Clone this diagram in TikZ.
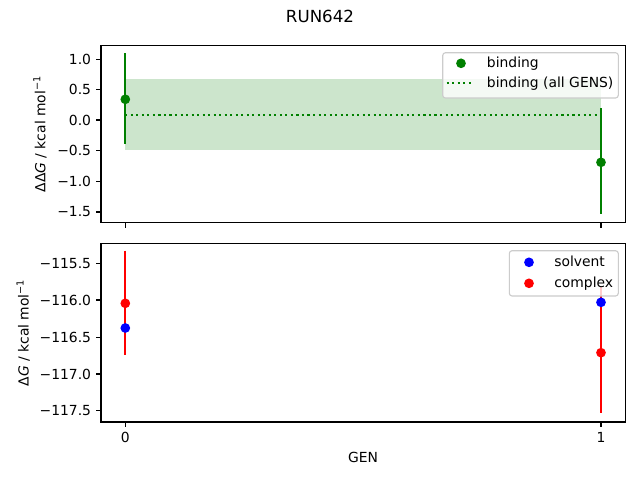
\documentclass[tikz,border=0pt]{standalone}
\usepackage{fontspec}
\setmainfont{DejaVu Sans}
\definecolor{mgreen}{HTML}{008000}
\definecolor{mblue}{HTML}{0000FF}
\definecolor{mred}{HTML}{FF0000}
\definecolor{legedge}{HTML}{CCCCCC}
\begin{document}
\begin{tikzpicture}[x=0.72pt,y=-0.72pt,font=\fontsize{10}{12}\selectfont,
  axisframe/.style={draw=black,line width=0.8pt},
  tickmark/.style={draw=black,line width=0.8pt},
  ylab/.style={anchor=east,inner sep=0pt},
  xlab/.style={anchor=north,inner sep=0pt},
  errbar/.style={line width=1.5pt},
  dotm/.style={circle,inner sep=0pt,minimum size=7pt},
  legbox/.style={draw=legedge,line width=0.8pt,fill=white,fill opacity=0.8,rounded corners=2pt},
  legtext/.style={anchor=west,inner sep=0pt,text height=7.5pt,text depth=2pt}]
\useasboundingbox (0,0) rectangle (640,480);
\fill[white] (0,0) rectangle (640,480);
% title
\node[font=\fontsize{12}{14}\selectfont] (title) at (320,16) {RUN642};
% ---------- top axes ----------
\fill[mgreen,fill opacity=0.2] (125.3,79) rectangle (601,150.3);
\draw[mgreen,line width=1.5pt,dash pattern=on 1.5pt off 2.475pt] (125.3,114.7) -- (601,114.7);
\draw[mgreen,errbar] (125.3,53.3) -- (125.3,144.3);
\draw[mgreen,errbar] (601,108.3) -- (601,214);
\node[dotm,fill=mgreen] (g0) at (125.3,99.3) {};
\node[dotm,fill=mgreen] (g1) at (601,162.3) {};
\draw[axisframe] (101,45.3) rectangle (625.3,222.7);
\foreach \y/\t in {59.3/1.0,89.8/0.5,120/0.0,150.5/{\char"2212 0.5},181.2/{\char"2212 1.0},212/{\char"2212 1.5}}{
  \draw[tickmark] (101,\y) -- (96.1,\y);
  \node[ylab] at (91.3,\y) {\t};
}
\draw[tickmark] (125.3,222.7) -- (125.3,227.6);
\draw[tickmark] (601,222.7) -- (601,227.6);
\node[rotate=90] (ylabtop) at (40,134) {ΔΔ\textit{G} / kcal mol\textsuperscript{\char"2212 1}};
% legend top
\draw[legbox] (442.7,52.7) rectangle (618.3,98);
\node[dotm,fill=mgreen] (lg1) at (461,63.3) {};
\node[legtext] (lt1) at (486.7,63.3) {binding};
\draw[mgreen,line width=1.5pt,dash pattern=on 1.5pt off 2.475pt] (446.7,83.3) -- (474.3,83.3);
\node[legtext] (lt2) at (486.7,83.3) {binding (all GENS)};
% ---------- bottom axes ----------
\draw[mred,errbar] (125.3,250.7) -- (125.3,354.7);
\node[dotm,fill=mblue] (s0) at (125.3,328) {};
\node[dotm,fill=mred] (c0) at (125.3,303.3) {};
\draw[mred,errbar] (601,286.7) -- (601,413.3);
\node[dotm,fill=mblue] (s1) at (601,302.3) {};
\node[dotm,fill=mred] (c1) at (601,352.7) {};
\draw[axisframe] (101,243.3) rectangle (625.3,422);
\foreach \y/\t in {263.3/{\char"2212 115.5},300/{\char"2212 116.0},337.1/{\char"2212 116.5},374/{\char"2212 117.0},410.7/{\char"2212 117.5}}{
  \draw[tickmark] (101,\y) -- (96.1,\y);
  \node[ylab] at (91.3,\y) {\t};
}
\draw[tickmark] (125.3,422) -- (125.3,426.9);
\draw[tickmark] (601,422) -- (601,426.9);
\node[xlab] (x0) at (125.3,431.7) {0};
\node[xlab] (x1) at (601,431.7) {1};
\node (gen) at (363,457) {GEN};
\node[rotate=90] (ylabbot) at (23.3,332.7) {Δ\textit{G} / kcal mol\textsuperscript{\char"2212 1}};
% legend bottom
\draw[legbox] (509.3,250.7) rectangle (618.3,296);
\node[dotm,fill=mblue] (lb1) at (529,262.3) {};
\node[legtext] (lbt1) at (554,262.3) {solvent};
\node[dotm,fill=mred] (lb2) at (529,283.3) {};
\node[legtext] (lbt2) at (554,283.3) {complex};
\end{tikzpicture}
\end{document}
